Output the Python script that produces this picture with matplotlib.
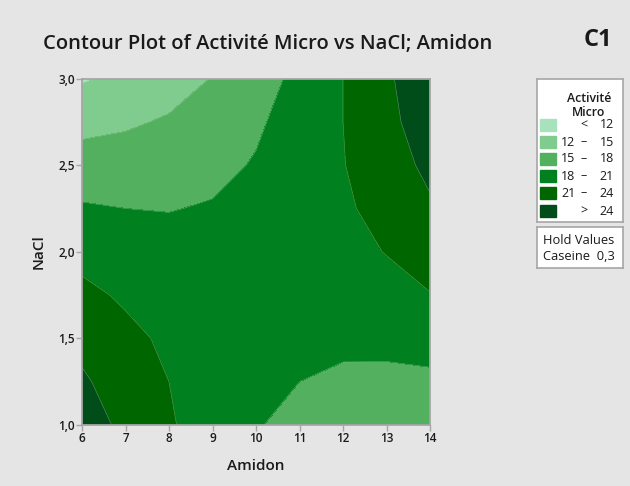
import matplotlib
matplotlib.use("Agg")
import matplotlib.pyplot as plt
from matplotlib.patches import Rectangle

plt.rcParams['font.family'] = ['Open Sans', 'DejaVu Sans']

# grid
amidon = [6, 7, 8, 9, 10, 11, 12, 13, 14]
nacl = [1.0, 1.25, 1.5, 1.75, 2.0, 2.25, 2.5, 2.75, 3.0]
activite = [
    [25.5, 23.3, 21.3, 19.6, 18.2, 17.1, 16.3, 15.7, 15.4],
    [24.4, 22.6, 21.0, 19.7, 18.7, 18.0, 17.5, 17.3, 17.4],
    [23.2, 21.7, 20.5, 19.6, 19.0, 18.6, 18.6, 18.8, 19.2],
    [21.7, 20.6, 19.8, 19.3, 19.1, 19.1, 19.4, 20.0, 20.9],
    [20.1, 19.4, 19.0, 18.8, 19.0, 19.4, 20.1, 21.1, 22.3],
    [18.3, 18.0, 17.9, 18.2, 18.7, 19.5, 20.6, 21.9, 23.6],
    [16.3, 16.4, 16.7, 17.3, 18.2, 19.4, 20.9, 22.6, 24.7],
    [14.1, 14.6, 15.3, 16.3, 17.6, 19.2, 21.0, 23.2, 25.6],
    [11.7, 12.6, 13.7, 15.1, 16.8, 18.7, 21.0, 23.5, 26.3],
]
levels = [0, 12, 15, 18, 21, 24, 40]
legend_labels = [("", "<", "12"), ("12", "–", "15"), ("15", "–", "18"),
                 ("18", "–", "21"), ("21", "–", "24"), ("", ">", "24")]
colors = ['#a8e2bd', '#80cc8e', '#52b05e', '#00801f', '#006600', '#004d1a']
bg = '#e5e5e5'
ink = '#1a1a1a'
W, H = 630, 486

fig = plt.figure(figsize=(6.3, 4.86), dpi=100, facecolor=bg)
ax = fig.add_axes([82 / W, 1 - 425 / H, 348 / W, 346.5 / H])
ax.contourf(amidon, nacl, activite, levels=levels, colors=colors)
ax.contour(amidon, nacl, activite, levels=levels[1:-1], colors='#9ccf9c',
           linewidths=0.4, alpha=0.6)
ax.set_xlim(6, 14)
ax.set_ylim(1, 3)
ax.set_xticks(amidon)
ax.set_yticks([1.0, 1.5, 2.0, 2.5, 3.0])
ax.set_yticklabels(["1,0", "1,5", "2,0", "2,5", "3,0"])
for s in ax.spines.values():
    s.set_color('#a6a6a6')
    s.set_linewidth(1.3)
ax.tick_params(length=4, width=1, color='#a6a6a6', labelsize=8.5,
               labelcolor=ink, pad=1)
for t in ax.get_xticklabels() + ax.get_yticklabels():
    t.set_fontweight('semibold')
ax.set_xlabel("Amidon", fontsize=11, fontweight='semibold', color=ink, labelpad=10)
ax.set_ylabel("NaCl", fontsize=11, fontweight='semibold', color=ink, labelpad=9)

fig.text(268 / W, 1 - 44 / H, "Contour Plot of Activité Micro vs NaCl; Amidon",
         ha='center', va='center', fontsize=14.5, fontweight='semibold', color=ink)
fig.text(598 / W, 1 - 40 / H, "C1", ha='center', va='center', fontsize=17,
         fontweight='bold', color=ink)

# legend box
lg = fig.add_axes([537 / W, 1 - 222 / H, 86 / W, 143 / H])
lg.set_xlim(537, 623)
lg.set_ylim(222, 79)
lg.set_xticks([])
lg.set_yticks([])
lg.set_facecolor('white')
for s in lg.spines.values():
    s.set_color('#a6a6a6')
    s.set_linewidth(1.2)
lg.text(589, 98, "Activité", ha='center', va='center', fontsize=8.8,
        fontweight='semibold', color=ink)
lg.text(589, 112, "Micro", ha='center', va='center', fontsize=8.8,
        fontweight='semibold', color=ink)
rows = [125, 142, 159, 176, 193, 211]
for yc, c, (lo, dash, hi) in zip(rows, colors, legend_labels):
    lg.add_patch(Rectangle((540, yc - 6), 16, 12, color=c))
    lg.text(561, yc, lo, ha='left', va='center', fontsize=9, color=ink)
    lg.text(584, yc, dash, ha='center', va='center', fontsize=9, color=ink)
    lg.text(614, yc, hi, ha='right', va='center', fontsize=9, color=ink)

hv = fig.add_axes([537 / W, 1 - 268 / H, 86 / W, 41 / H])
hv.set_xlim(537, 623)
hv.set_ylim(268, 227)
hv.set_xticks([])
hv.set_yticks([])
hv.set_facecolor('white')
for s in hv.spines.values():
    s.set_color('#a6a6a6')
    s.set_linewidth(1.2)
hv.text(579, 240, "Hold Values", ha='center', va='center', fontsize=9.3, color=ink)
hv.text(579, 256, "Caseine  0,3", ha='center', va='center', fontsize=9.3, color=ink)

fig.savefig("out.png", dpi=100, facecolor=bg)
